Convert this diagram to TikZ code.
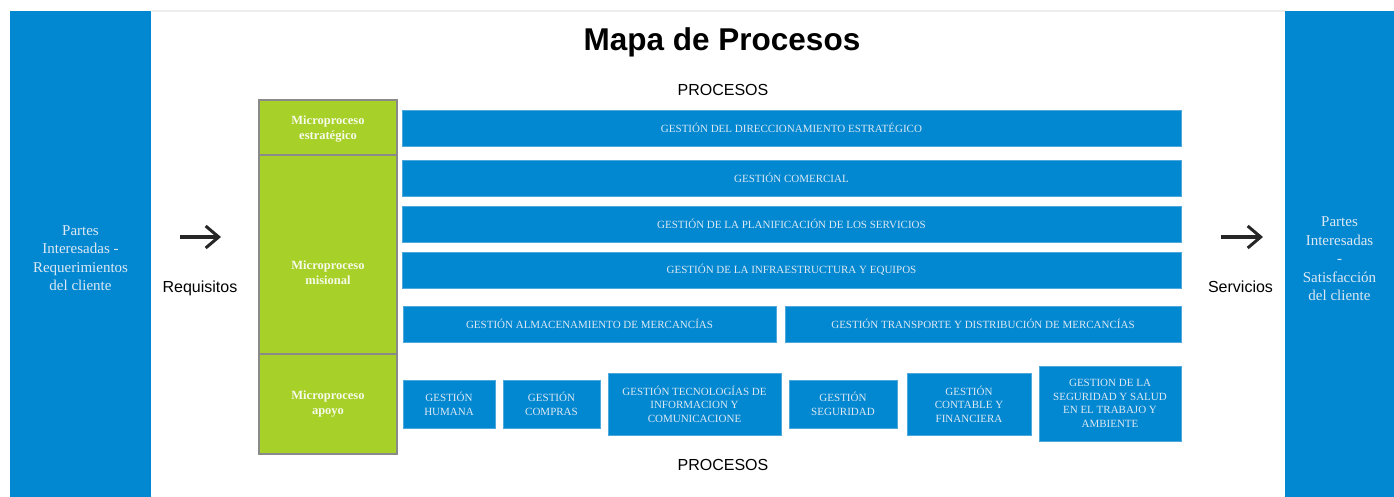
\documentclass[tikz,border=0pt]{standalone}
\usepackage{fontspec}
\setmainfont{Liberation Serif}
\newfontfamily\arialfont{Liberation Sans}
\usetikzlibrary{arrows.meta}
\definecolor{azulproc}{HTML}{0288D1}
\definecolor{bordeazul}{HTML}{4FA8DC}
\definecolor{verdeproc}{HTML}{A7D129}
\definecolor{bordeverde}{HTML}{8A8A8A}
\definecolor{textoazul}{HTML}{DDE8F3}
\definecolor{textoverde}{HTML}{F7FAEA}
\begin{document}
\begin{tikzpicture}[x=1pt,y=1pt]
    \tikzstyle{every node}+=[inner sep=0pt]
    \tikzstyle{lado}=[fill=azulproc,minimum width=141pt,minimum height=494pt,text=textoazul,align=center,font=\fontsize{15}{18.5}\selectfont]
    \tikzstyle{micro}=[fill=verdeproc,draw=bordeverde,line width=1.5pt,minimum width=138pt]
    \tikzstyle{microtexto}=[text=textoverde,align=center,font=\bfseries\fontsize{12.5}{15}\selectfont]
    \tikzstyle{gestion}=[fill=azulproc,draw=bordeazul,line width=0.6pt,text=textoazul,align=center,font=\fontsize{11}{13.5}\selectfont]
    \tikzstyle{rotulo}=[font=\arialfont\fontsize{16}{19}\selectfont]
    \tikzstyle{flecha}=[draw=black!85,line width=3.2pt,-{Straight Barb[length=13pt,width=22pt,line width=3pt]}]
    \useasboundingbox (0,0) rectangle (1394,-497);
    \draw [black!7,line width=2pt] (152,-11) -- (1285,-11);
    \node [lado] (partes) at (80.5,-258) {Partes\\Interesadas -\\Requerimientos\\del cliente};
    \node [lado,minimum width=109pt,minimum height=496pt] (satisfaccion) at (1339.5,-259) {Partes\\Interesadas\\-\\Satisfacción\\del cliente};
    \node [font=\arialfont\bfseries\fontsize{31.5}{36}\selectfont] (titulo) at (722,-42) {Mapa de Procesos};
    \node [rotulo] (procarriba) at (723,-90) {PROCESOS};
    \node [rotulo] (procabajo) at (723,-465) {PROCESOS};
    \node [rotulo] (requisitos) at (200,-288) {Requisitos};
    \node [rotulo] (servicios) at (1240.5,-287) {Servicios};
    \coordinate (req1) at (180,-237);
    \coordinate (req2) at (221,-237);
    \coordinate (ser1) at (1221,-237);
    \coordinate (ser2) at (1263,-237);
    \draw [flecha] (req1) -- (req2);
    \draw [flecha] (ser1) -- (ser2);
    \node [micro,minimum height=55pt] (estrategico) at (328,-127.5) {};
    \node [micro,minimum height=199pt] (misional) at (328,-254.5) {};
    \node [micro,minimum height=100pt] (apoyo) at (328,-404) {};
    \node [microtexto] (textoestr) at (328,-129) {Microproceso\\estratégico};
    \node [microtexto] (textomis) at (328,-273) {Microproceso\\misional};
    \node [microtexto] (textoapoyo) at (328,-404.5) {Microproceso\\apoyo};
    \node [gestion,minimum width=779pt,minimum height=36pt] (direccion) at (791.5,-128) {GESTIÓN DEL DIRECCIONAMIENTO ESTRATÉGICO};
    \node [gestion,minimum width=779pt,minimum height=36pt] (comercial) at (791.5,-178) {GESTIÓN COMERCIAL};
    \node [gestion,minimum width=779pt,minimum height=36pt] (planificacion) at (791.5,-224) {GESTIÓN DE LA PLANIFICACIÓN DE LOS SERVICIOS};
    \node [gestion,minimum width=779pt,minimum height=36pt] (infraestructura) at (791.5,-270) {GESTIÓN DE LA INFRAESTRUCTURA Y EQUIPOS};
    \node [gestion,minimum width=373pt,minimum height=36pt] (almacenamiento) at (589.5,-324) {GESTIÓN ALMACENAMIENTO DE MERCANCÍAS};
    \node [gestion,minimum width=396pt,minimum height=36pt] (transporte) at (983,-324) {GESTIÓN TRANSPORTE Y DISTRIBUCIÓN DE MERCANCÍAS};
    \node [gestion,minimum width=92pt,minimum height=48pt] (humana) at (449,-404) {GESTIÓN\\HUMANA};
    \node [gestion,minimum width=97pt,minimum height=48pt] (compras) at (551.5,-404) {GESTIÓN\\COMPRAS};
    \node [gestion,minimum width=173pt,minimum height=62pt] (tecnologias) at (694.5,-404) {GESTIÓN TECNOLOGÍAS DE\\INFORMACION Y\\COMUNICACIONE};
    \node [gestion,minimum width=108pt,minimum height=48pt] (seguridad) at (843,-404) {GESTIÓN\\SEGURIDAD};
    \node [gestion,minimum width=124pt,minimum height=62pt] (contable) at (969,-404) {GESTIÓN\\CONTABLE Y\\FINANCIERA};
    \node [gestion,minimum width=142pt,minimum height=75pt] (salud) at (1110,-403.5) {GESTION DE LA\\SEGURIDAD Y SALUD\\EN EL TRABAJO Y\\AMBIENTE};
\end{tikzpicture}
\end{document}
